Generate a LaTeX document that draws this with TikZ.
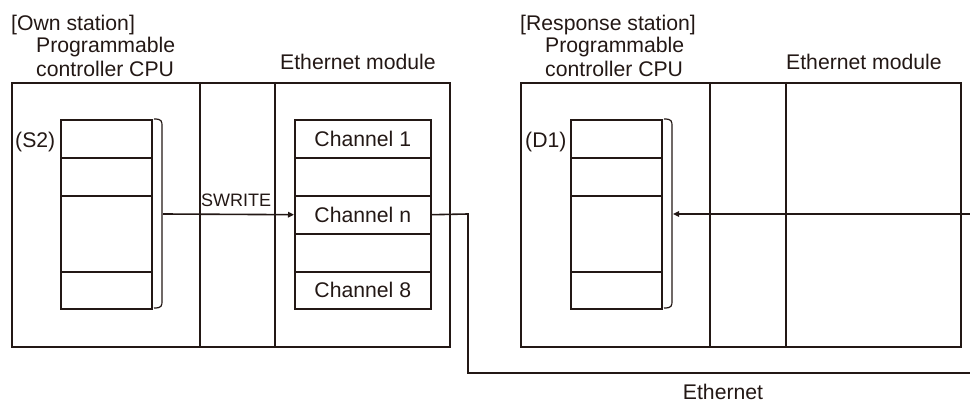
\documentclass[tikz,border=0pt]{standalone}
\usepackage{fontspec}
\setmainfont{Liberation Sans}
\usetikzlibrary{arrows.meta}
\definecolor{ink}{HTML}{231815}
\begin{document}
\begin{tikzpicture}[x=1pt,y=-1pt,
  every node/.style={text=ink},
  big/.style={font=\fontsize{21.2}{24}\selectfont, inner sep=0pt},
  small/.style={font=\fontsize{18}{20}\selectfont, inner sep=0pt},
  outer/.style={draw=ink, line width=2pt, minimum width=438pt, minimum height=264pt, anchor=north west, inner sep=0pt},
  divider/.style={draw=ink, line width=2pt},
  cell/.style={draw=ink, line width=1.6pt, anchor=north west, inner sep=0pt, minimum width=91pt},
  chan/.style={draw=ink, line width=1.6pt, anchor=north west, inner sep=0pt, minimum width=136pt, minimum height=37.8pt, big},
  wire/.style={draw=ink, line width=1.6pt},
  brace/.style={draw=ink, line width=1.2pt},
  arr/.style={wire, -{Triangle[length=6pt,width=5.5pt]}}
]
\useasboundingbox (0,0) rectangle (970,403);

% ---------- Own station ----------
\node[big, anchor=base west] (ownlbl) at (11,31) {[Own station]};
\node[big, anchor=base west] (prog1) at (36,53) {Programmable};
\node[big, anchor=base west] (ctrl1) at (36,77) {controller CPU};
\node[big, anchor=base west] (eth1) at (280,70) {Ethernet module};

\node[outer] (own) at (11,82) {};
\draw[divider] (200,82) coordinate (d1t) -- (200,346) coordinate (d1b);
\draw[divider] (275,82) coordinate (d2t) -- (275,346) coordinate (d2b);

\node[cell, minimum height=38pt] (s1) at (60,119) {};
\node[cell, minimum height=38pt] (s2) at (60,157) {};
\node[cell, minimum height=76pt] (s3) at (60,195) {};
\node[cell, minimum height=37pt] (s4) at (60,271) {};
\node[big, anchor=base west] (s2lbl) at (15,148) {(S2)};

\draw[brace] (154,119) coordinate (b1t) .. controls (162,119) and (162,121) .. (162,127)
  -- (162,300) .. controls (162,306) and (162,308) .. (154,308) coordinate (b1b);
\coordinate (b1tip) at (163,214);

\node[chan] (c1) at (294,119) {Channel 1};
\node[chan] (c2) at (294,157) {};
\node[chan] (cn) at (294,195) {Channel n};
\node[chan] (c4) at (294,233) {};
\node[chan, minimum height=37pt] (c8) at (294,271) {Channel 8};

\node[small, anchor=base west] (swlbl) at (201,207) {SWRITE};
\draw[arr] (b1tip) -- (cn.west);

% ---------- Ethernet cable ----------
\coordinate (ecorner) at (468,214);
\coordinate (ebottom) at (468,373);
\coordinate (eend) at (970,373);
\draw[wire] (cn.east) -- (ecorner) -- (ebottom) -- (eend);
\node[big, anchor=base] (ethlbl) at (723,400) {Ethernet};

% ---------- Response station ----------
\node[big, anchor=base west] (resplbl) at (520,31) {[Response station]};
\node[big, anchor=base west] (prog2) at (545,53) {Programmable};
\node[big, anchor=base west] (ctrl2) at (545,77) {controller CPU};
\node[big, anchor=base west] (eth2) at (786,70) {Ethernet module};

\node[outer, minimum width=440pt] (resp) at (520,82) {};
\draw[divider] (710,82) coordinate (d3t) -- (710,346) coordinate (d3b);
\draw[divider] (786,82) coordinate (d4t) -- (786,346) coordinate (d4b);

\node[cell, minimum height=38pt] (r1) at (570,119) {};
\node[cell, minimum height=38pt] (r2) at (570,157) {};
\node[cell, minimum height=76pt] (r3) at (570,195) {};
\node[cell, minimum height=37pt] (r4) at (570,271) {};
\node[big, anchor=base west] (d1lbl) at (525,148) {(D1)};

\draw[brace] (664,119) coordinate (b2t) .. controls (672,119) and (672,121) .. (672,127)
  -- (672,300) .. controls (672,306) and (672,308) .. (664,308) coordinate (b2b);
\coordinate (b2tip) at (673,214);
\coordinate (rin) at (970,214);
\draw[arr] (rin) -- (b2tip);
\end{tikzpicture}
\end{document}
